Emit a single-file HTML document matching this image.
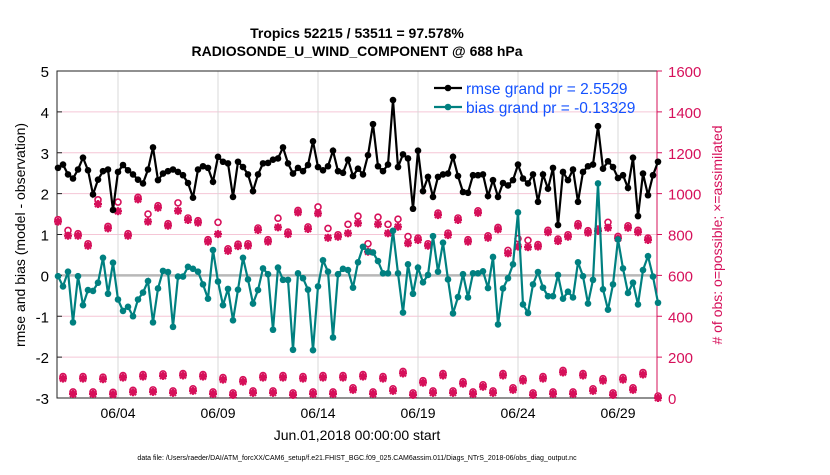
<!DOCTYPE html>
<html><head><meta charset="utf-8"><style>
body{margin:0;background:#fff;width:830px;height:470px;overflow:hidden;font-family:"Liberation Sans",Arial,sans-serif}
</style></head><body>
<svg id="chart" width="830" height="470" xmlns="http://www.w3.org/2000/svg" font-family="Liberation Sans, Arial, sans-serif">
<text x="357" y="38" font-size="14" font-weight="bold" text-anchor="middle">Tropics 52215 / 53511 = 97.578%</text>
<text x="357" y="56" font-size="14" font-weight="bold" text-anchor="middle">RADIOSONDE_U_WIND_COMPONENT @ 688 hPa</text>
<g id="grid"></g><g id="axes"></g><g id="counts"></g><g id="series"></g><g id="legend"></g>
<text transform="translate(25,235) rotate(-90)" font-size="14" text-anchor="middle">rmse and bias (model - observation)</text>
<text transform="translate(722,235) rotate(-90)" font-size="14" fill="#d6105a" text-anchor="middle"># of obs: o=possible; ×=assimilated</text>
<text x="357" y="440" font-size="14" text-anchor="middle">Jun.01,2018 00:00:00 start</text>
<text x="357" y="460" font-size="7" text-anchor="middle">data file: /Users/raeder/DAI/ATM_forcXX/CAM6_setup/f.e21.FHIST_BGC.f09_025.CAM6assim.011/Diags_NTrS_2018-06/obs_diag_output.nc</text>
</svg>
<script>
const rmse=[2.63,2.71,2.47,2.37,2.59,2.88,2.57,1.98,2.34,2.55,2.59,1.6,2.53,2.7,2.57,2.47,2.34,2.25,2.59,3.13,2.33,2.49,2.55,2.59,2.53,2.45,2.26,1.9,2.59,2.67,2.63,2.29,2.9,2.78,2.74,1.92,2.78,2.65,2.47,2.06,2.47,2.74,
2.75,2.83,2.86,3.13,2.74,2.49,2.63,2.55,2.7,3.28,2.65,2.57,2.67,3.05,2.55,2.51,2.83,2.43,2.61,2.47,2.94,3.7,2.67,2.55,2.71,4.29,2.65,2.96,2.86,1.63,3.05,2.06,2.41,1.92,2.41,2.47,2.49,2.9,2.43,2.04,
2.02,2.45,2.45,2.47,1.94,2.33,1.92,2.26,2.2,2.33,2.71,2.37,2.25,2.47,1.8,2.47,2.12,2.63,1.23,2.53,2.33,2.59,1.8,2.53,2.67,2.71,3.65,2.61,2.79,2.65,2.38,2.45,2.14,2.88,1.45,2.49,1.96,2.45,2.78];
const bias=[-0.02,-0.27,0.09,-1.15,-0.02,-0.73,-0.36,-0.38,-0.18,0.43,-0.45,0.31,-0.59,-0.87,-0.77,-1.0,-0.59,-0.42,-0.14,-1.15,-0.32,0.11,0.08,-1.26,-0.03,-0.03,0.21,0.16,0.09,-0.22,-0.57,0.62,-0.15,-0.73,-0.33,-1.1,-0.35,0.43,-0.1,-0.69,-0.36,0.17,
0.03,-1.33,0.19,-0.11,-0.11,-1.82,0.05,-0.07,-0.35,-1.83,-0.27,0.37,0.09,-1.52,0.03,0.16,0.13,-0.3,0.32,0.7,0.58,0.56,0.35,0.05,0.05,1.09,0.05,-0.91,0.27,-0.45,0.19,-0.17,0.01,0.96,0.09,0.8,-0.1,-0.93,-0.53,0.03,
-0.54,0.05,0.05,0.1,-0.31,0.45,-1.2,-0.32,-0.07,0.27,1.54,-0.71,-0.92,-0.22,0.08,-0.3,-0.51,-0.51,0.01,-0.57,-0.4,-0.54,0.32,-0.02,-0.69,-0.11,2.25,-0.34,-0.84,-0.22,0.88,0.17,-0.43,-0.18,-0.71,0.13,0.47,-0.03,-0.67];
const assimEven=[863,794,794,745,949,830,914,794,972,863,931,843,916,871,858,765,802,720,743,745,822,
765,835,802,908,827,903,784,789,806,855,716,850,806,838,757,773,745,895,797,871,765,
906,784,825,708,741,738,741,811,768,789,843,809,817,833,781,833,811,773,0];
const possEven=[863,810,794,745,960,830,949,794,972,890,931,843,945,871,858,765,850,720,743,745,822,
765,870,802,908,827,925,820,789,840,880,745,875,840,865,780,773,745,895,797,871,765,
906,784,825,712,770,762,741,811,768,789,843,809,817,850,781,833,811,773,0];
const assimOdd=[95,20,95,20,92,18,100,28,105,30,108,25,110,35,105,20,90,15,80,25,100,
25,100,15,95,20,100,20,100,40,105,20,95,35,120,15,75,25,110,25,70,
20,55,25,110,40,85,15,95,20,125,20,110,35,85,15,90,40,115];
const xTicks=["06/04","06/09","06/14","06/19","06/24","06/29"];
const xTickDays=[3,8,13,18,23,28];
const yTicks=[-3,-2,-1,0,1,2,3,4,5];
const rTicks=[0,200,400,600,800,1000,1200,1400,1600];

const NS="http://www.w3.org/2000/svg";
const L=57,R=657,T=71,B=398;
const xd=d=>58+d*20;
const xi=i=>xd(i*0.25);
const yv=v=>T+(5-v)*(B-T)/8;
const yc=c=>B-c*(B-T)/1600;
const MAG="#d6105a";
function mk(tag,attrs,parent){const e=document.createElementNS(NS,tag);for(const k in attrs)e.setAttribute(k,attrs[k]);parent.appendChild(e);return e;}
const grid=document.getElementById('grid'),axes=document.getElementById('axes'),counts=document.getElementById('counts'),series=document.getElementById('series'),legend=document.getElementById('legend');
yTicks.forEach(v=>{
  if(v!==-3&&v!==5){const g=mk('line',{x1:L,x2:R,y1:yv(v),y2:yv(v),stroke:'#f5c6d6','stroke-width':1},grid);
  
  }
  const t=mk('text',{x:L-8,y:yv(v)+6,'font-size':15,'text-anchor':'end'},axes);t.textContent=v;
  
  
  mk('line',{x1:L,x2:L+5,y1:yv(v),y2:yv(v),stroke:'#222'},axes);
});
xTickDays.forEach((d,k)=>{
  const g=mk('line',{x1:xd(d),x2:xd(d),y1:T,y2:B,stroke:'#d8d8d8','stroke-width':1},grid);
  
  
  const t=mk('text',{x:xd(d),y:418,'font-size':14,'text-anchor':'middle'},axes);t.textContent=xTicks[k];
  
  
});
rTicks.forEach(c=>{
  mk('line',{x1:R,x2:R+5,y1:yc(c),y2:yc(c),stroke:MAG},axes);
  const t=mk('text',{x:668,y:yc(c)+6,'font-size':15,fill:MAG},axes);t.textContent=c;
  
  
});
const z=mk('line',{x1:L,x2:R,y1:yv(0),y2:yv(0),stroke:'#b8b8b8','stroke-width':2.5},grid);


const frame=mk('path',{d:`M${R},${T} L${L},${T} L${L},${B} L${R},${B}`,fill:'none',stroke:'#222','stroke-width':1},axes);


const ra=mk('line',{x1:R,x2:R,y1:T,y2:B,stroke:MAG,'stroke-width':1},axes);


function star(x,y){const g=mk('g',{stroke:MAG,'stroke-width':2.2},counts);
  
  
  mk('line',{x1:x-4,x2:x+4,y1:y,y2:y},g);mk('line',{x1:x,x2:x,y1:y-4,y2:y+4},g);
  mk('line',{x1:x-3,x2:x+3,y1:y-3,y2:y+3},g);mk('line',{x1:x-3,x2:x+3,y1:y+3,y2:y-3},g);}
function circ(x,y){const c=mk('circle',{cx:x,cy:y,r:3,fill:'#fff',stroke:MAG,'stroke-width':1.6},counts);
  
  }
assimEven.forEach((a,k)=>{const x=xi(2*k);circ(x,yc(possEven[k])-2);star(x,yc(a));});
assimOdd.forEach((a,k)=>{const x=xi(2*k+1);circ(x,yc(a)-2);star(x,yc(a));});
function line(arr,col,name){
  const p=mk('polyline',{points:arr.map((v,i)=>xi(i)+','+yv(v)).join(' '),fill:'none',stroke:col,'stroke-width':2.2},series);
  
  
  arr.forEach((v,i)=>{const c=mk('circle',{cx:xi(i),cy:yv(v),r:3.3,fill:col},series);
    
    });
}
line(bias,'#008080','bias');
line(rmse,'#000','rmse');
[['#000','rmse grand pr = 2.5529',88],['#008080','bias grand pr = -0.13329',107]].forEach(([c,s,y])=>{
  const g=mk('g',{},legend);
  
  
  mk('line',{x1:434,x2:462,y1:y,y2:y,stroke:c,'stroke-width':2.2},g);
  mk('circle',{cx:448,cy:y,r:3.3,fill:c},g);
  const t=mk('text',{x:466,y:y+6,'font-size':15.5,fill:'#1452ff'},g);t.textContent=s;
});
</script>
</body></html>
